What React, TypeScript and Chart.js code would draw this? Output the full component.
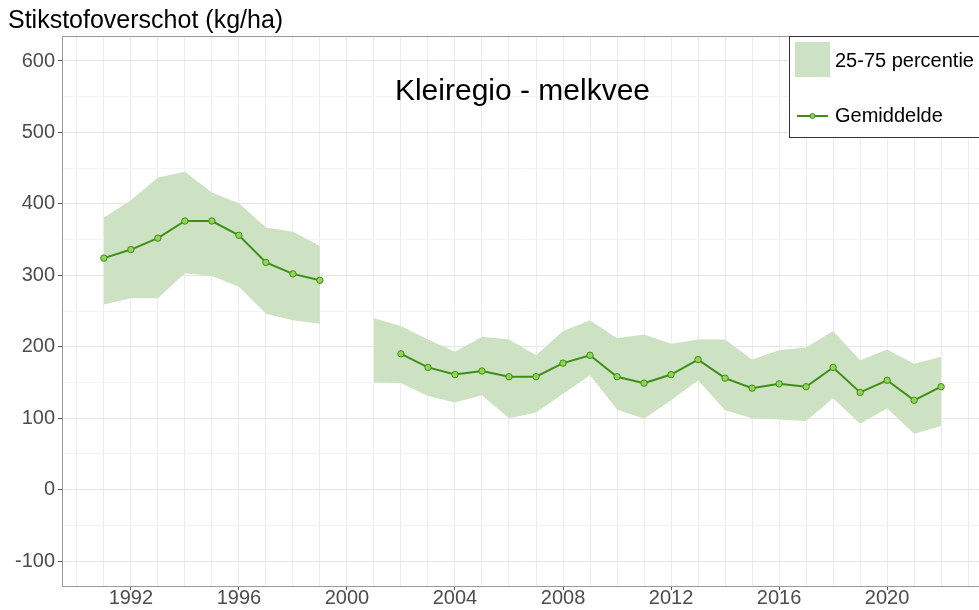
import React, { useEffect, useRef } from "react";
import { Chart, registerables } from "chart.js";
Chart.register(...registerables);

const years = [1991, 1992, 1993, 1994, 1995, 1996, 1997, 1998, 1999, 2000, 2001, 2002, 2003, 2004, 2005, 2006, 2007, 2008, 2009, 2010, 2011, 2012, 2013, 2014, 2015, 2016, 2017, 2018, 2019, 2020, 2021, 2022];
const meanValues = [324, 336, 352, 376, 376, 356, 318, 302, 293, null, null, 190, 171, 161, 166, 158, 158, 177, 188, 158, 149, 161, 182, 156, 142, 148, 144, 171, 136, 153, 125, 144];
const p75Values = [381, 405, 437, 445, 416, 401, 367, 361, 341, null, 240, 229, 210, 193, 214, 210, 188, 222, 237, 212, 217, 204, 210, 210, 182, 195, 199, 222, 181, 196, 176, 186];
const p25Values = [259, 268, 268, 303, 299, 284, 246, 237, 232, null, 150, 149, 131, 122, 132, 100, 108, 134, 160, 112, 99, 125, 153, 111, 100, 98, 96, 128, 92, 114, 78, 89];
const xLabelYears = [1992, 1996, 2000, 2004, 2008, 2012, 2016, 2020];
const yLabelValues = [-100, 0, 100, 200, 300, 400, 500, 600];

const chartTitle = "Kleiregio - melkvee";
const yAxisTitle = "Stikstofoverschot (kg/ha)";
const bandLabel = "25-75 percentie";
const meanLabel = "Gemiddelde";

const FONT = "'Liberation Sans', Arial, sans-serif";
const BAND = "rgba(205,226,195,1)";
const LINE = "#3d8e16";
const POINT = "#93d35a";

const overlayPlugin = {
  id: "overlay",
  afterDatasetsDraw(chart: any) {
    const { ctx, chartArea } = chart;
    ctx.save();
    // panel border
    ctx.strokeStyle = "#9a9a9a";
    ctx.lineWidth = 1;
    ctx.strokeRect(chartArea.left + 0.5, chartArea.top + 0.5, chartArea.right - chartArea.left, chartArea.bottom - chartArea.top);
    // titles
    ctx.fillStyle = "#000";
    ctx.textBaseline = "alphabetic";
    ctx.textAlign = "left";
    ctx.font = `25px ${FONT}`;
    ctx.fillText(yAxisTitle, 8, 28);
    ctx.textAlign = "center";
    ctx.font = `30px ${FONT}`;
    ctx.fillText(chartTitle, (chartArea.left + chartArea.right) / 2, 100);
    // legend
    ctx.fillStyle = "#fff";
    ctx.fillRect(789, 36, 300, 101);
    ctx.strokeStyle = "#333";
    ctx.strokeRect(789.5, 36.5, 300, 101);
    ctx.fillStyle = BAND;
    ctx.fillRect(795, 42, 35, 35);
    ctx.strokeStyle = LINE;
    ctx.lineWidth = 2;
    ctx.beginPath();
    ctx.moveTo(797, 116);
    ctx.lineTo(828, 116);
    ctx.stroke();
    ctx.beginPath();
    ctx.arc(812.5, 116, 2.5, 0, Math.PI * 2);
    ctx.fillStyle = POINT;
    ctx.fill();
    ctx.lineWidth = 1;
    ctx.stroke();
    ctx.fillStyle = "#000";
    ctx.textAlign = "left";
    ctx.font = `20px ${FONT}`;
    ctx.fillText(bandLabel, 835, 67);
    ctx.fillText(meanLabel, 835, 122);
    ctx.restore();
  },
};

export default function App() {
  const ref = useRef<HTMLCanvasElement>(null);
  useEffect(() => {
    if (!ref.current) return;
    const pts = (arr: (number | null)[]) => years.map((x, i) => ({ x, y: arr[i] }));
    const chart = new Chart(ref.current, {
      type: "line",
      data: {
        datasets: [
          { data: pts(p25Values) as any, borderWidth: 0, borderColor: "transparent", pointRadius: 0, fill: false, spanGaps: false, order: 2 },
          { data: pts(p75Values) as any, borderWidth: 0, borderColor: "transparent", backgroundColor: BAND, pointRadius: 0, fill: "-1", spanGaps: false, order: 1 },
          {
            data: pts(meanValues) as any,
            borderColor: LINE,
            borderWidth: 2,
            pointRadius: 3.2,
            pointBackgroundColor: POINT,
            pointBorderColor: LINE,
            pointBorderWidth: 1,
            fill: false,
            spanGaps: false,
            tension: 0,
            order: -1,
          },
        ],
      },
      options: {
        animation: false,
        responsive: false,
        devicePixelRatio: 1,
        layout: { padding: { top: 36, left: 0, right: 0, bottom: 0 } },
        plugins: { legend: { display: false }, tooltip: { enabled: false }, title: { display: false } },
        scales: {
          x: {
            type: "linear",
            min: 1989.45,
            max: 2023.55,
            afterBuildTicks: (s: any) => {
              const t = [];
              for (let y = 1990; y <= 2023; y++) t.push({ value: y });
              s.ticks = t;
            },
            afterFit: (s: any) => { s.height = 24; },
            border: { display: false },
            grid: {
              color: "#ececec",
              lineWidth: 1,
              tickLength: 4,
              tickColor: (c: any) => (xLabelYears.includes(c.tick?.value) ? "#555" : "transparent"),
            },
            ticks: {
              autoSkip: false,
              maxRotation: 0,
              padding: -2,
              color: "#4d4d4d",
              font: { family: FONT, size: 20, lineHeight: 1 },
              callback: (v: any) => (xLabelYears.includes(v) ? String(v) : ""),
            },
          },
          y: {
            type: "linear",
            min: -135,
            max: 635,
            afterBuildTicks: (s: any) => {
              const t = [];
              for (let v = -100; v <= 600; v += 50) t.push({ value: v });
              s.ticks = t;
            },
            afterFit: (s: any) => { s.width = 62; },
            border: { display: false },
            grid: {
              color: (c: any) => (yLabelValues.includes(c.tick?.value) ? "#e6e6e6" : "#f3f3f3"),
              lineWidth: 1,
              tickLength: 4,
              tickColor: (c: any) => (yLabelValues.includes(c.tick?.value) ? "#555" : "transparent"),
            },
            ticks: {
              autoSkip: false,
              padding: 3,
              color: "#4d4d4d",
              font: { family: FONT, size: 20 },
              callback: (v: any) => (yLabelValues.includes(v) ? String(v) : ""),
            },
          },
        },
      },
      plugins: [overlayPlugin],
    });
    return () => chart.destroy();
  }, []);
  return (
    <div style={{ position: "fixed", left: 0, top: 0, width: 979, height: 610, overflow: "hidden", background: "#fff" }}>
      <canvas ref={ref} width={988} height={610} style={{ width: 988, height: 610, display: "block" }} />
    </div>
  );
}
